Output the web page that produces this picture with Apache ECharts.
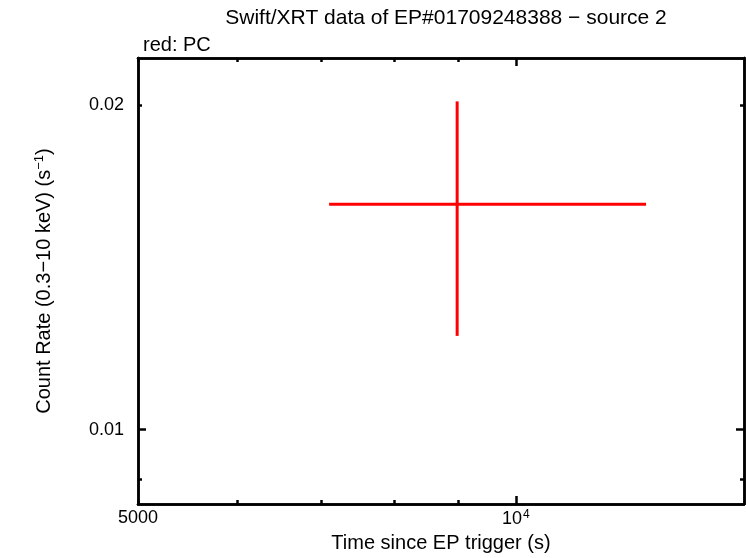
<!DOCTYPE html>
<html>
<head>
<meta charset="utf-8">
<script src="https://cdn.jsdelivr.net/npm/echarts@6/dist/echarts.min.js"></script>
<style>html,body{margin:0;padding:0;background:#fff}#c{width:746px;height:558px}</style>
</head>
<body>
<div id="c"></div>
<script>
// Data
var timeMid = [8980];
var timeLo = [7100];
var timeHi = [12700];
var rateMid = [0.01619];
var rateLo = [0.01222];
var rateHi = [0.02017];

// Axis ticks / labels
var xMinorTicks = [5000, 6000, 7000, 8000, 9000];
var xMajorTicks = [10000];
var xLabels = [5000, 10000];
var yMinorTicks = [0.009, 0.02];
var yMajorTicks = [0.01];
var yLabels = [0.01, 0.02];

var X_MIN = 5000, X_MAX = 15200, Y_MIN = 0.00853, Y_MAX = 0.02213;
var FONT = 'Liberation Sans';

var chart = echarts.init(document.getElementById('c'), null, {renderer: 'canvas'});

function xAxisDef(pos, ticks, len, withLabels, name) {
  return {
    type: 'log', logBase: 10, position: pos, min: X_MIN, max: X_MAX, gridIndex: 0,
    axisLine: {show: true, onZero: false, lineStyle: {color: '#000', width: 2.5}},
    axisTick: {show: true, inside: true, length: len, lineStyle: {color: '#000', width: 2.5}, customValues: ticks},
    axisLabel: withLabels ? {
      show: true, customValues: xLabels, margin: 5, color: '#000', fontFamily: FONT, fontSize: 18,
      formatter: function (v) { return v >= 10000 ? '10{sup|4}' : String(Math.round(v)); },
      rich: {sup: {fontSize: 12, verticalAlign: 'top', padding: [0, 0, 8, 1], fontFamily: FONT, color: '#000'}}
    } : {show: false},
    splitLine: {show: false}, minorTick: {show: false}, minorSplitLine: {show: false},
    name: name || '', nameLocation: 'middle', nameGap: 27,
    nameTextStyle: {color: '#000', fontFamily: FONT, fontSize: 20}
  };
}
function yAxisDef(pos, ticks, len, withLabels, name) {
  return {
    type: 'log', logBase: 10, position: pos, min: Y_MIN, max: Y_MAX, gridIndex: 0,
    axisLine: {show: true, onZero: false, lineStyle: {color: '#000', width: 2.5}},
    axisTick: {show: true, inside: true, length: len, lineStyle: {color: '#000', width: 2.5}, customValues: ticks},
    axisLabel: withLabels ? {
      show: true, customValues: yLabels, margin: 14, color: '#000', fontFamily: FONT, fontSize: 18,
      formatter: function (v) { return v.toFixed(2); }
    } : {show: false},
    splitLine: {show: false}, minorTick: {show: false}, minorSplitLine: {show: false},
    name: name || '', nameLocation: 'middle', nameGap: 83, nameRotate: 90,
    nameTextStyle: {color: '#000', fontFamily: FONT, fontSize: 20,
      rich: {sup: {fontSize: 13, verticalAlign: 'top', padding: [0, 0, 9, 0], fontFamily: FONT, color: '#000'}}}
  };
}

var option = {
  backgroundColor: '#fff',
  animation: false,
  title: [
    {text: 'Swift/XRT data of EP#01709248388 \u2212 source 2', left: 441, top: 3, textAlign: 'center',
     textStyle: {color: '#000', fontFamily: FONT, fontSize: 21, fontWeight: 'normal'}},
    {text: 'red: PC', left: 138, top: 30,
     textStyle: {color: '#000', fontFamily: FONT, fontSize: 20, fontWeight: 'normal'}}
  ],
  grid: {left: 138, right: 2, top: 58, bottom: 49, containLabel: false},
  xAxis: [
    xAxisDef('bottom', xMinorTicks, 4, true, 'Time since EP trigger (s)'),
    xAxisDef('bottom', xMajorTicks, 8, false),
    xAxisDef('top', xMinorTicks, 4, false),
    xAxisDef('top', xMajorTicks, 8, false)
  ],
  yAxis: [
    yAxisDef('left', yMinorTicks, 4, true, 'Count Rate (0.3\u221210 keV) (s{sup|\u22121})'),
    yAxisDef('left', yMajorTicks, 8, false),
    yAxisDef('right', yMinorTicks, 4, false),
    yAxisDef('right', yMajorTicks, 8, false)
  ],
  series: [{
    type: 'custom',
    xAxisIndex: 0, yAxisIndex: 0,
    data: timeMid.map(function (t, i) { return [t, rateMid[i], timeLo[i], timeHi[i], rateLo[i], rateHi[i]]; }),
    encode: {x: 0, y: 1},
    renderItem: function (params, api) {
      var l = api.coord([api.value(2), api.value(1)]);
      var r = api.coord([api.value(3), api.value(1)]);
      var lo = api.coord([api.value(0), api.value(4)]);
      var hi = api.coord([api.value(0), api.value(5)]);
      var st = {stroke: '#ff0000', lineWidth: 3};
      return {type: 'group', children: [
        {type: 'line', shape: {x1: l[0], y1: l[1], x2: r[0], y2: r[1]}, style: st},
        {type: 'line', shape: {x1: lo[0], y1: lo[1], x2: hi[0], y2: hi[1]}, style: st}
      ]};
    }
  }]
};
chart.setOption(option);
</script>
</body>
</html>
